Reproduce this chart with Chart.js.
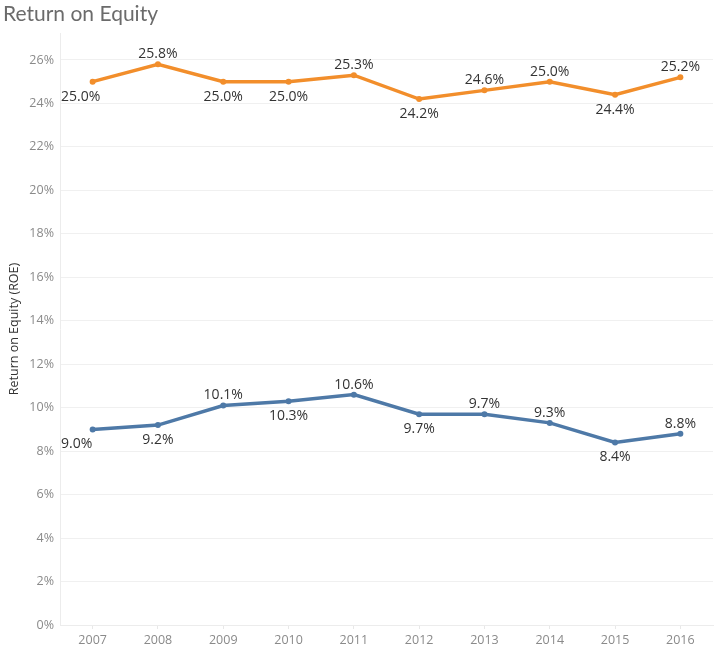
<!DOCTYPE html>
<html>
<head>
<meta charset="utf-8">
<script src="https://cdn.jsdelivr.net/npm/chart.js@4/dist/chart.umd.min.js"></script>
<style>
  html, body { margin: 0; padding: 0; background: #fff; }
  #wrap { width: 720px; height: 657px; position: relative; }
</style>
</head>
<body>
<div id="wrap"><canvas id="roe__chart"></canvas></div>
<script>
var years = ['2007', '2008', '2009', '2010', '2011', '2012', '2013', '2014', '2015', '2016'];
var roeHigh = [25.0, 25.8, 25.0, 25.0, 25.3, 24.2, 24.6, 25.0, 24.4, 25.2];
var roeLow = [9.0, 9.2, 10.1, 10.3, 10.6, 9.7, 9.7, 9.3, 8.4, 8.8];
var yTicks = [0, 2, 4, 6, 8, 10, 12, 14, 16, 18, 20, 22, 24, 26];

// where each point label sits: 'a' above, 'b' below
var placeHigh = ['b', 'a', 'b', 'b', 'a', 'b', 'a', 'a', 'b', 'a'];
var placeLow = ['b', 'b', 'a', 'b', 'a', 'b', 'a', 'a', 'b', 'a'];

var titlePlugin = {
    id: 'topTitle',
    afterDraw: function (chart) {
        var c = chart.ctx;
        c.save();
        c.font = '21px Lato';
        c.fillStyle = '#6b6b6b';
        c.textBaseline = 'middle';
        c.textAlign = 'left';
        c.fillText('Return on Equity', 3, 14);
        c.restore();
    }
};

var labelPlugin = {
    id: 'pointLabels',
    afterDatasetsDraw: function (chart) {
        var c = chart.ctx;
        var places = [placeHigh, placeLow];
        c.save();
        c.font = '14px "Open Sans"';
        c.fillStyle = '#333';
        chart.data.datasets.forEach(function (ds, di) {
            var meta = chart.getDatasetMeta(di);
            meta.data.forEach(function (pt, i) {
                var txt = ds.data[i].toFixed(1) + '%';
                var x = pt.x;
                c.textAlign = 'center';
                if (i === 0) {
                    c.textAlign = 'left';
                    x = chart.chartArea.left + 1;
                }
                if (places[di][i] === 'a') {
                    c.textBaseline = 'bottom';
                    c.fillText(txt, x, pt.y - 3);
                } else {
                    c.textBaseline = 'top';
                    c.fillText(txt, x, pt.y + 8);
                }
            });
        });
        c.restore();
    }
};

var ctx = document.getElementById('roe__chart').getContext('2d');
var roeChart = new Chart(ctx, {
    type: 'line',
    data: {
        labels: years,
        datasets: [{
            data: roeHigh,
            borderColor: '#F28E2B',
            backgroundColor: '#F28E2B',
            borderWidth: 3.5,
            pointRadius: 3,
            pointBorderWidth: 0,
            pointHoverRadius: 3,
            tension: 0
        }, {
            data: roeLow,
            borderColor: '#4E79A7',
            backgroundColor: '#4E79A7',
            borderWidth: 3.5,
            pointRadius: 3,
            pointBorderWidth: 0,
            pointHoverRadius: 3,
            tension: 0
        }]
    },
    options: {
        responsive: true,
        maintainAspectRatio: false,
        animation: false,
        layout: {
            padding: { top: 33, right: 7, left: 0, bottom: 0 }
        },
        plugins: {
            legend: { display: false },
            tooltip: { enabled: false }
        },
        scales: {
            x: {
                offset: true,
                grid: {
                    display: true,
                    drawOnChartArea: false,
                    drawTicks: true,
                    tickLength: 4,
                    color: '#e8e8e8'
                },
                border: { color: '#ececec' },
                ticks: {
                    color: '#8a8a8a',
                    font: { family: 'Open Sans', size: 12.5 },
                    padding: 4,
                    maxRotation: 0
                },
                afterFit: function (scale) { scale.height = 32; }
            },
            y: {
                min: 0,
                max: 27.24,
                afterBuildTicks: function (scale) {
                    scale.ticks = yTicks.map(function (v) { return { value: v }; });
                },
                grid: {
                    color: '#f0f0f0',
                    drawTicks: false
                },
                border: { color: '#ececec' },
                ticks: {
                    color: '#8a8a8a',
                    font: { family: 'Open Sans', size: 12.5 },
                    padding: 6,
                    callback: function (v) { return v + '%'; }
                },
                title: {
                    display: true,
                    text: 'Return on Equity (ROE)',
                    color: '#333',
                    font: { family: 'Open Sans', size: 12.5, weight: 'normal' },
                    padding: { top: 7, bottom: 0 }
                },
                afterFit: function (scale) { scale.width = 60; }
            }
        }
    },
    plugins: [titlePlugin, labelPlugin]
});
</script>
</body>
</html>
